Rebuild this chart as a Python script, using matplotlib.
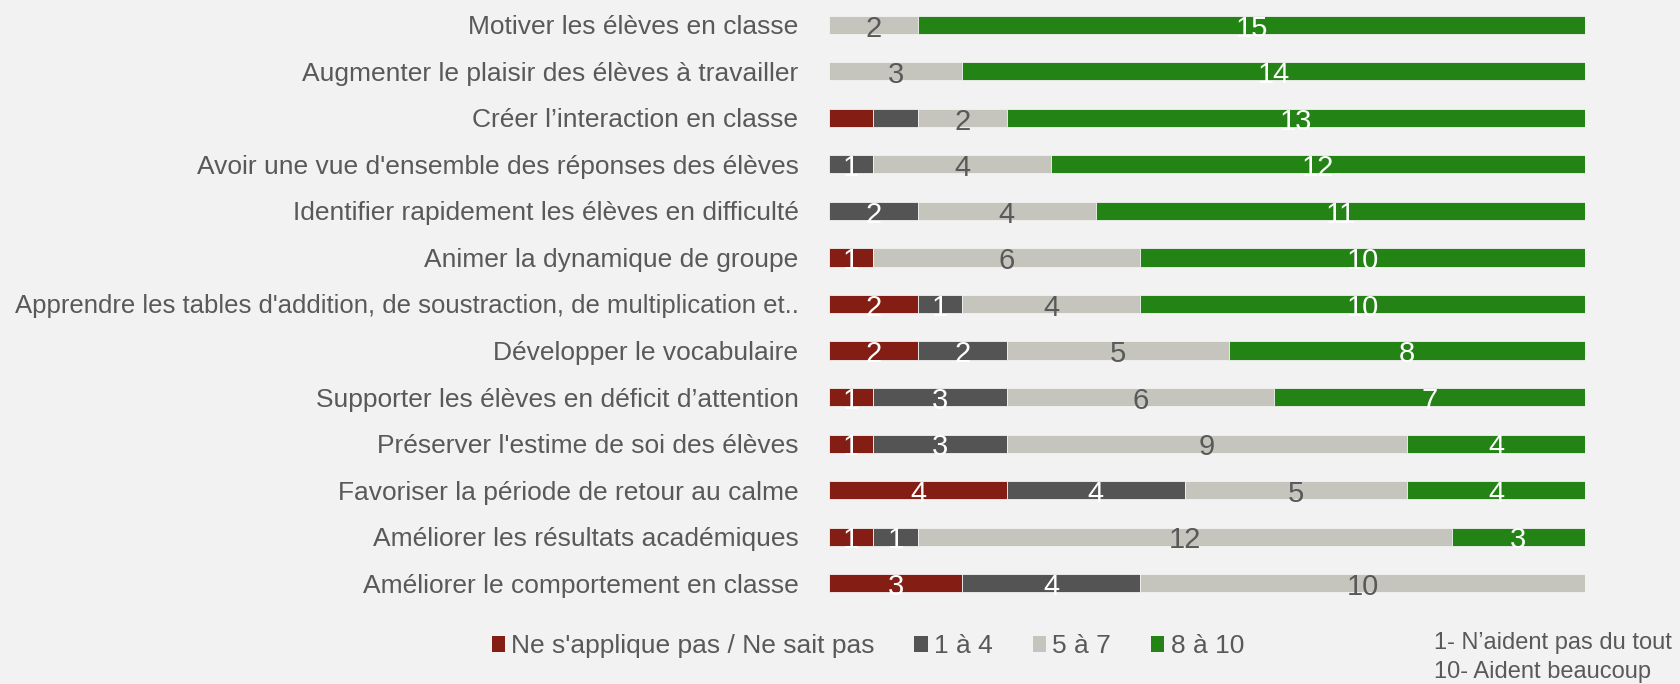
import matplotlib
matplotlib.use("Agg")
import matplotlib.pyplot as plt
from matplotlib.patches import Patch
import numpy as np

categories = [
    "Motiver les élèves en classe",
    "Augmenter le plaisir des élèves à travailler",
    "Créer l’interaction en classe",
    "Avoir une vue d'ensemble des réponses des élèves",
    "Identifier rapidement les élèves en difficulté",
    "Animer la dynamique de groupe",
    "Apprendre les tables d'addition, de soustraction, de multiplication et..",
    "Développer le vocabulaire",
    "Supporter les élèves en déficit d’attention",
    "Préserver l'estime de soi des élèves",
    "Favoriser la période de retour au calme",
    "Améliorer les résultats académiques",
    "Améliorer le comportement en classe",
]
series_names = ["Ne s'applique pas / Ne sait pas", "1 à 4", "5 à 7", "8 à 10"]
na_vals   = [0, 0, 1, 0, 0, 1, 2, 2, 1, 1, 4, 1, 3]
low_vals  = [0, 0, 1, 1, 2, 0, 1, 2, 3, 3, 4, 1, 4]
mid_vals  = [2, 3, 2, 4, 4, 6, 4, 5, 6, 9, 5, 12, 10]
high_vals = [15, 14, 13, 12, 11, 10, 10, 8, 7, 4, 4, 3, 0]
# segments whose value labels are not shown in the original (row index, series index)
hidden_labels = [(2, 0), (2, 1)]
note_lines = ["1- N’aident pas du tout", "10- Aident beaucoup"]

colors = ["#841E14", "#545454", "#C5C5BD", "#238415"]
label_colors = ["white", "white", "#595959", "white"]
bg = "#F2F2F2"
txt = "#595959"

plt.rcParams['font.family'] = ['Liberation Sans', 'DejaVu Sans']

fig = plt.figure(figsize=(16.8, 6.84), dpi=100, facecolor=bg)
ax = fig.add_axes([829/1680, 1 - 606.5/684, (1585-829)/1680, (606.5-1.5)/684])
ax.set_facecolor(bg)

data = [na_vals, low_vals, mid_vals, high_vals]
y = np.arange(len(categories))
left = np.zeros(len(categories))
for si, vals in enumerate(data):
    vals = np.array(vals, dtype=float)
    ax.barh(y, vals, left=left, height=0.39, color=colors[si], edgecolor=bg, linewidth=0.6)
    for ri, v in enumerate(vals):
        if v > 0 and (ri, si) not in hidden_labels:
            ax.annotate(f"{int(v)}", (left[ri] + v / 2, ri), xytext=(0, -8.5),
                        textcoords="offset points", ha="center", va="baseline",
                        fontsize=21, color=label_colors[si])
    left += vals

ax.set_xlim(0, 17)
ax.set_ylim(len(categories) - 0.5, -0.5)
ax.set_yticks(y)
ax.set_yticklabels(categories, fontsize=19, color=txt)
ax.tick_params(axis='y', length=0, pad=22)
ax.set_xticks([])
for s in ax.spines.values():
    s.set_visible(False)

for lab in ax.get_yticklabels():
    if lab.get_text().startswith("Apprendre"):
        lab.set_fontsize(18.5)

handles = [Patch(facecolor=c, edgecolor='none') for c in colors]
leg = fig.legend(handles, series_names, loc='center', bbox_to_anchor=(0.5165, 0.055), ncol=4,
                 frameon=False, fontsize=19, handlelength=0.5, handleheight=0.5,
                 handletextpad=0.25, columnspacing=1.5, labelcolor=txt)

fig.text(1434/1680, 1 - 643/684, note_lines[0], ha='left', va='center', fontsize=17, color=txt)
fig.text(1434/1680, 1 - 672/684, note_lines[1], ha='left', va='center', fontsize=17, color=txt)

fig.savefig("out.png", dpi=100, facecolor=bg)
